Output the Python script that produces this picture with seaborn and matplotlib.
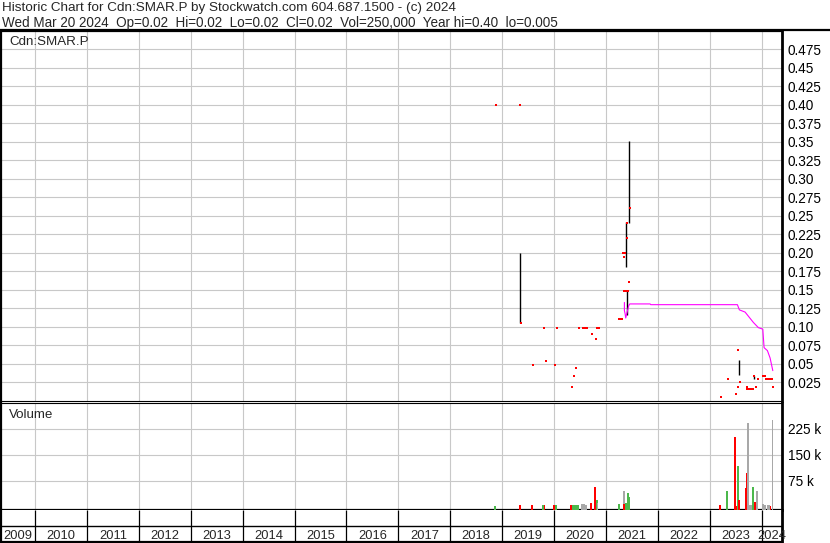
import matplotlib
matplotlib.use("Agg")
import matplotlib.pyplot as plt
from matplotlib.lines import Line2D
import numpy as np
import seaborn as sns

# ---- data (x in decimal years) ----
close_x = [2018.877, 2019.345, 2019.358, 2019.589, 2019.807, 2019.846, 2020.013, 2020.058,
           2020.347, 2020.385, 2020.424, 2020.482, 2020.564, 2020.591, 2020.617, 2020.642,
           2020.732, 2020.809, 2020.834, 2020.867, 2021.258, 2021.285, 2021.311, 2021.336,
           2021.349, 2021.362, 2021.355, 2021.383, 2021.403, 2021.407, 2021.420, 2021.440,
           2021.470,
           2023.218, 2023.347, 2023.507, 2023.540, 2023.540, 2023.584, 2023.713, 2023.725,
           2023.757, 2023.790, 2023.828, 2023.848, 2023.886, 2023.936, 2024.021, 2024.066,
           2024.079, 2024.129, 2024.168, 2024.206, 2024.214]
close_y = [0.400, 0.400, 0.105, 0.049, 0.099, 0.054, 0.049, 0.099,
           0.019, 0.034, 0.045, 0.099, 0.099, 0.099, 0.099, 0.099,
           0.090, 0.084, 0.099, 0.099, 0.110, 0.110, 0.110, 0.200,
           0.195, 0.200, 0.149, 0.149, 0.240, 0.220, 0.149, 0.160,
           0.261,
           0.005, 0.030, 0.010, 0.069, 0.019, 0.025, 0.019, 0.016,
           0.016, 0.016, 0.016, 0.034, 0.019, 0.030, 0.034, 0.034,
           0.030, 0.030, 0.030, 0.030, 0.019]

range_x = [2019.351, 2021.394, 2021.451, 2021.413, 2023.559, 2023.848]
range_lo = [0.105, 0.181, 0.240, 0.116, 0.035, 0.030]
range_hi = [0.200, 0.241, 0.351, 0.149, 0.056, 0.034]

ma_x = [2021.355, 2021.355, 2021.368, 2021.381, 2021.400, 2021.440, 2021.459, 2021.850,
        2021.863, 2023.532, 2023.570, 2023.680, 2023.840, 2023.936, 2024.021, 2024.046,
        2024.110, 2024.162, 2024.214]
ma_y = [0.133, 0.122, 0.118, 0.112, 0.118, 0.129, 0.131, 0.131,
        0.130, 0.130, 0.123, 0.120, 0.106, 0.099, 0.097, 0.072,
        0.068, 0.058, 0.041]

vol_x = [2018.863, 2019.345, 2019.570, 2019.782, 2019.813, 2020.000, 2020.033, 2020.322,
         2020.360, 2020.391, 2020.424, 2020.457, 2020.534, 2020.578, 2020.617, 2020.713,
         2020.790, 2020.822, 2020.841, 2021.246, 2021.343, 2021.349, 2021.381, 2021.420,
         2021.445, 2023.198, 2023.328, 2023.487, 2023.520, 2023.540, 2023.565, 2023.686,
         2023.705, 2023.738, 2023.770, 2023.796, 2023.834, 2023.867, 2023.911, 2024.021,
         2024.059, 2024.117, 2024.148, 2024.168, 2024.206]
vol_k = [2, 3, 3, 5, 3, 3, 3, 3,
         3, 3, 3, 5, 6, 8, 4, 10,
         56, 18, 10, 7, 44, 7, 9, 38,
         27, 3, 44, 200, 2, 116, 18, 53,
         96, 243, 4, 5, 56, 12, 44, 8,
         4, 4, 4, 2, 252]
vol_dir = ["up", "dn", "dn", "up", "dn", "dn", "up", "dn",
           "up", "up", "up", "up", "eq", "eq", "eq", "dn",
           "dn", "up", "eq", "up", "eq", "dn", "up", "up",
           "up", "dn", "up", "dn", "dn", "up", "dn", "dn",
           "dn", "eq", "eq", "eq", "up", "dn", "eq", "eq",
           "eq", "eq", "eq", "dn", "eq"]

price_labels = ["0.025", "0.05", "0.075", "0.10", "0.125", "0.15", "0.175", "0.20", "0.225",
                "0.25", "0.275", "0.30", "0.325", "0.35", "0.375", "0.40", "0.425", "0.45", "0.475"]
vol_labels = ["75 k", "150 k", "225 k"]
years = list(range(2009, 2025))

header1 = "Historic Chart for Cdn:SMAR.P by Stockwatch.com 604.687.1500 - (c) 2024"
header2 = "Wed Mar 20 2024  Op=0.02  Hi=0.02  Lo=0.02  Cl=0.02  Vol=250,000  Year hi=0.40  lo=0.005"

# ---- styling ----
sns.set_style("white")
plt.rcParams["font.family"] = ["Liberation Sans", "DejaVu Sans"]

W, H = 830, 543
XMIN, XMAX = 2009.345, 2024.397
GRID = "#C8C8C8"
dir_colors = {"up": "#4CB84C", "dn": "#FF0000", "eq": "#A8A8A8"}


def rect(x0, y0, x1, y1):
    return [x0 / W, 1 - y1 / H, (x1 - x0) / W, (y1 - y0) / H]


def fy(y):
    return 1 - y / H


fig = plt.figure(figsize=(W / 100, H / 100), dpi=100)
ax = fig.add_axes(rect(1, 30.5, 782.3, 401))
axv = fig.add_axes(rect(1, 403, 782.3, 509.5))
axl = fig.add_axes(rect(1, 509.5, 782.3, 541.5))

bounds = years[1:]

# price panel
ax.vlines(range_x, range_lo, range_hi, color="black", lw=1.0, zorder=3)
sns.lineplot(x=ma_x, y=ma_y, ax=ax, sort=False, estimator=None, color="#FF00FF", lw=0.8, zorder=4)
sns.scatterplot(x=close_x, y=close_y, ax=ax, marker="s", s=4, color="#FF0000", linewidth=0, zorder=5)
ax.set_xlim(XMIN, XMAX)
ax.set_ylim(0, 0.5)
ax.set_yticks([float(v) for v in price_labels])
ax.set_yticklabels(price_labels)

# volume panel
vol_floor = -9
axv.bar(vol_x, np.array(vol_k) - vol_floor, bottom=vol_floor, width=0.03,
        color=[dir_colors[d] for d in vol_dir], linewidth=0, zorder=3)
axv.set_xlim(XMIN, XMAX)
axv.set_ylim(vol_floor, 300)
axv.set_yticks([float(v.split()[0]) for v in vol_labels])
axv.set_yticklabels(vol_labels)

for a in (ax, axv):
    a.set_xticks(bounds)
    a.grid(True, color=GRID, lw=0.8)
    a.set_axisbelow(True)
    a.yaxis.tick_right()
    a.tick_params(axis="y", length=0, pad=4, labelsize=9.8, labelcolor="black")
    a.tick_params(axis="x", length=0, labelbottom=False)
    a.set_xlabel("")
    a.set_ylabel("")
    for s in a.spines.values():
        s.set_visible(True)
        s.set_color("black")

ax.spines["top"].set_linewidth(1.6)
ax.spines["left"].set_linewidth(1.6)
ax.spines["right"].set_linewidth(2.0)
ax.spines["bottom"].set_linewidth(0.8)
axv.spines["top"].set_linewidth(0.8)
axv.spines["left"].set_linewidth(1.6)
axv.spines["right"].set_linewidth(2.0)
axv.spines["bottom"].set_linewidth(1.6)

# year label strip
axl.set_xlim(XMIN, XMAX)
axl.set_ylim(0, 1)
axl.set_xticks([])
axl.set_yticks([])
for k, s in axl.spines.items():
    s.set_color("black")
    s.set_linewidth(2.0 if k == "right" else 1.6)
axl.spines["top"].set_visible(False)
axl.axhline(0.48, color="black", lw=1.0)
axl.vlines(bounds, 0, 1, color="black", lw=0.9)
for yr in years:
    lo, hi = max(yr, XMIN), min(yr + 1, XMAX)
    axl.text((lo + hi) / 2, 0.075, str(yr), ha="center", va="baseline", fontsize=9.3)

# header and panel titles
fig.add_artist(Line2D([0, 1], [fy(30), fy(30)], transform=fig.transFigure, color="black", lw=1.6))
fig.text(2 / W, fy(11.5), header1, ha="left", va="baseline", fontsize=9.7)
fig.text(2 / W, fy(27), header2, ha="left", va="baseline", fontsize=9.75)
fig.text(9 / W, fy(45), "Cdn:SMAR.P", ha="left", va="baseline", fontsize=9.6)
fig.text(9 / W, fy(418), "Volume", ha="left", va="baseline", fontsize=9.6)

fig.savefig("out.png", dpi=100)
